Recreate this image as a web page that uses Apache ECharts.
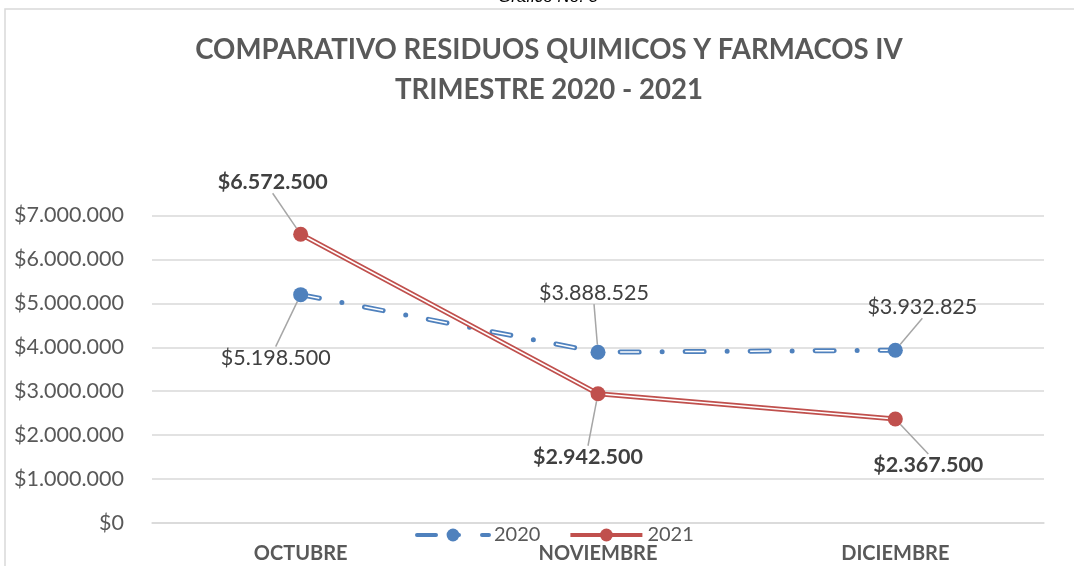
<!DOCTYPE html>
<html style="height: 100%;">
<head>
  <meta charset="utf-8">
  <title>Comparativo residuos</title>
  <script src="https://cdn.jsdelivr.net/npm/echarts@6/dist/echarts.min.js"></script>
</head>
<body style="height: 100%; margin: 0; background: #fff;">
  <div id="container" style="width: 1074px; height: 566px;"></div>
  <script type="text/javascript">
    // datos del grafico
    var meses = ['OCTUBRE', 'NOVIEMBRE', 'DICIEMBRE'];
    var valores2020 = [5198500, 3888525, 3932825];
    var valores2021 = [6572500, 2942500, 2367500];
    var nombres = ['2020', '2021'];
    var titulo = 'COMPARATIVO RESIDUOS QUIMICOS Y FARMACOS IV\nTRIMESTRE 2020 - 2021';

    // desplazamiento de etiquetas (dx, dy) por punto
    var despl2020 = [[-25, 63], [-4, -59], [27, -43]];
    var despl2021 = [[-28, -52], [-10, 63], [33, 46]];

    var azul = '#4F81BD';
    var rojo = '#C0504D';
    var fuente = 'Lato, "Open Sans", sans-serif';

    function pesos(v) {
      var s = Math.round(v).toString();
      return '$' + s.replace(/\B(?=(\d{3})+(?!\d))/g, '.');
    }

    var dom = document.getElementById('container');
    var myChart = echarts.init(dom);

    function etiquetas(negrita) {
      return {
        show: true,
        position: 'inside',
        formatter: function (p) { return pesos(p.value); },
        color: '#404040',
        fontFamily: fuente,
        fontSize: 21.5,
        fontWeight: negrita ? 'bold' : 'normal'
      };
    }

    var option = {
      animation: false,
      graphic: [
        {
          type: 'rect',
          shape: { x: 5, y: 9, width: 1200, height: 700 },
          style: { fill: 'none', stroke: '#d9d9d9', lineWidth: 1.5 },
          z: -1
        },
        {
          type: 'text',
          x: 548,
          y: -11,
          style: { text: 'Gráfico No. 3', font: 'italic 17px "Liberation Sans", sans-serif', fill: '#000', align: 'center' }
        },
        // titulo
        {
          type: 'text',
          x: 549,
          y: 30,
          style: {
            text: titulo,
            align: 'center',
            fill: '#595959',
            fontFamily: fuente,
            fontSize: 27.6,
            fontWeight: 'bold',
            lineHeight: 40
          }
        }
      ],
      legend: {
        data: [
          { name: '2020', lineStyle: { width: 4, type: [19, 23, 0, 23], cap: 'round' } },
          { name: '2021', lineStyle: { width: 4 } }
        ],
        bottom: 21,
        left: 415,
        padding: 0,
        itemWidth: 72,
        itemHeight: 16,
        itemGap: 28,
        textStyle: { color: '#595959', fontFamily: fuente, fontSize: 20 }
      },
      grid: { left: 152, right: 30, top: 215.5, bottom: 43 },
      xAxis: {
        type: 'category',
        data: meses,
        axisLine: { lineStyle: { color: '#d9d9d9', width: 1.5 } },
        axisTick: { show: false },
        axisLabel: {
          color: '#595959',
          fontFamily: fuente,
          fontSize: 20,
          fontWeight: 'bold',
          margin: 21
        }
      },
      yAxis: {
        type: 'value',
        min: 0,
        max: 7000000,
        interval: 1000000,
        axisLine: { show: false },
        axisTick: { show: false },
        splitLine: { lineStyle: { color: '#d9d9d9', width: 1.5 } },
        axisLabel: {
          color: '#595959',
          fontFamily: fuente,
          fontSize: 21.5,
          margin: 28,
          formatter: function (v) { return pesos(v); }
        }
      },
      series: [
        // 2020 linea exterior
        {
          name: '2020', type: 'line', data: valores2020, z: 2,
          symbol: 'circle', symbolSize: 15, showSymbol: false,
          itemStyle: { color: azul },
          lineStyle: { color: azul, width: 5, type: [19, 23, 0, 23], cap: 'round' }
        },
        // 2020 linea interior blanca
        {
          name: '_2020', type: 'line', data: valores2020, z: 3, silent: true,
          symbol: 'none',
          lineStyle: { color: '#fff', width: 1.5, type: [19, 46] }
        },
        // 2021 linea exterior
        {
          name: '2021', type: 'line', data: valores2021, z: 2,
          symbol: 'circle', symbolSize: 15, showSymbol: false,
          itemStyle: { color: rojo },
          lineStyle: { color: rojo, width: 5 }
        },
        {
          name: '_2021', type: 'line', data: valores2021, z: 3, silent: true,
          symbol: 'none',
          lineStyle: { color: '#fff', width: 1.5 }
        },
        // marcadores y etiquetas
        {
          name: '2020', type: 'line', data: valores2020, z: 5,
          symbol: 'circle', symbolSize: 15,
          itemStyle: { color: azul },
          lineStyle: { width: 0, opacity: 0 },
          label: etiquetas(false),
          labelLine: { show: true, lineStyle: { color: '#a6a6a6', width: 1.5 } },
          labelLayout: function (p) {
            return { dx: despl2020[p.dataIndex][0], dy: despl2020[p.dataIndex][1] };
          }
        },
        {
          name: '2021', type: 'line', data: valores2021, z: 5,
          symbol: 'circle', symbolSize: 15,
          itemStyle: { color: rojo },
          lineStyle: { width: 0, opacity: 0 },
          label: etiquetas(true),
          labelLine: { show: true, lineStyle: { color: '#a6a6a6', width: 1.5 } },
          labelLayout: function (p) {
            return { dx: despl2021[p.dataIndex][0], dy: despl2021[p.dataIndex][1] };
          }
        }
      ]
    };

    myChart.setOption(option);
    window.onresize = function () {
      myChart.resize();
    };
  </script>
</body>
</html>
